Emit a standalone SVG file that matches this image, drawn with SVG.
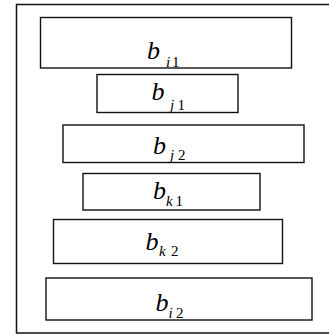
<svg xmlns="http://www.w3.org/2000/svg" width="329" height="336" viewBox="0 0 329 336">
  <style>
    .frame { fill: none; stroke: #111; stroke-width: 1.5; }
    .box { fill: #fff; stroke: #111; stroke-width: 1.4; }
    .b { font-family: "Liberation Serif", "Times New Roman", serif; font-style: italic; font-size: 26px; fill: #000; }
    .sub { font-family: "Liberation Serif", "Times New Roman", serif; font-size: 15px; fill: #000; }
    .sub .v { font-style: italic; }
  </style>
  <rect width="329" height="336" fill="#fff"/>
  <!-- outer frame, runs past the right edge -->
  <rect class="frame" x="16.5" y="4.5" width="330" height="328.5"/>

  <g id="bi1">
    <rect class="box" x="40.5" y="17.5" width="251" height="50.5"/>
    <text class="b" x="147" y="58.5">b</text>
    <text class="sub" y="66.5"><tspan class="v" x="166">i</tspan><tspan x="172">1</tspan></text>
  </g>
  <g id="bj1">
    <rect class="box" x="97" y="74.5" width="141" height="38"/>
    <text class="b" x="151.5" y="99.5">b</text>
    <text class="sub" y="110"><tspan class="v" x="170">j</tspan><tspan x="177.5">1</tspan></text>
  </g>
  <g id="bj2">
    <rect class="box" x="63" y="125" width="241" height="37.5"/>
    <text class="b" x="153" y="154">b</text>
    <text class="sub" y="160"><tspan class="v" x="170">j</tspan><tspan x="178">2</tspan></text>
  </g>
  <g id="bk1">
    <rect class="box" x="83" y="173.5" width="177" height="36.5"/>
    <text class="b" x="153" y="198.5">b</text>
    <text class="sub" y="206"><tspan class="v" x="166">k</tspan><tspan x="175.5">1</tspan></text>
  </g>
  <g id="bk2">
    <rect class="box" x="53.5" y="219.5" width="229" height="44"/>
    <text class="b" x="145.5" y="249.5">b</text>
    <text class="sub" y="255.5"><tspan class="v" x="159">k</tspan><tspan x="171">2</tspan></text>
  </g>
  <g id="bi2">
    <rect class="box" x="46" y="278" width="266" height="42"/>
    <text class="b" x="155.5" y="311">b</text>
    <text class="sub" y="317.5"><tspan class="v" x="168.5">i</tspan><tspan x="176">2</tspan></text>
  </g>
</svg>
